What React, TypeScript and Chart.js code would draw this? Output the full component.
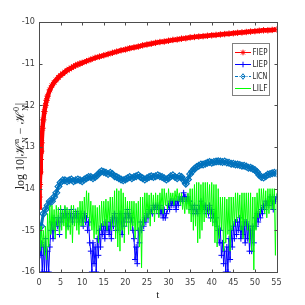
import React, { useEffect, useRef } from "react";
import { Chart, registerables } from "chart.js";

Chart.register(...registerables);

const X_TICKS = [0, 5, 10, 15, 20, 25, 30, 35, 40, 45, 50, 55];
const Y_TICKS = [-16, -15, -14, -13, -12, -11, -10];
const LEGEND_LABELS = ["FIEP", "LIEP", "LICN", "LILF"];
const X_TITLE = "t";

// FIEP sampled times / values
const FIEP_T = [0, 0.1, 0.2, 0.3, 0.4, 0.5, 0.6, 0.8, 1, 1.25, 1.5, 1.75, 2, 2.5, 3, 3.5, 4, 4.5, 5, 5.5, 6, 6.5, 7, 7.5, 8, 8.5, 9, 9.5, 10, 11, 12, 13, 14, 15, 16, 17, 18, 19, 20, 21, 22, 23, 24, 25, 26, 27, 28, 29, 30, 31, 32, 33, 34, 35, 36, 37, 38, 39, 40, 41, 42, 43, 44, 45, 46, 47, 48, 49, 50, 51, 52, 53, 54, 55];
const FIEP = [-14.45, -14.2, -13.9, -13.6, -13.3, -13.1, -12.9, -12.55, -12.35, -12.15, -12.0, -11.88, -11.78, -11.63, -11.53, -11.45, -11.39, -11.33, -11.28, -11.24, -11.2, -11.16, -11.13, -11.1, -11.07, -11.04, -11.02, -11.0, -10.98, -10.94, -10.9, -10.86, -10.83, -10.8, -10.77, -10.74, -10.71, -10.68, -10.66, -10.63, -10.61, -10.59, -10.56, -10.54, -10.52, -10.5, -10.48, -10.47, -10.45, -10.43, -10.42, -10.4, -10.39, -10.37, -10.36, -10.35, -10.34, -10.33, -10.32, -10.31, -10.3, -10.29, -10.28, -10.27, -10.26, -10.25, -10.24, -10.23, -10.22, -10.21, -10.2, -10.2, -10.19, -10.18];

// LIEP, every 0.25 in t
const LIEP = [
  -15.0, -15.6, -15.3, -16.0,
  -15.4, -16.0, -15.2, -16.0,
  -15.5, -16.0, -15.4, -15.0,
  -14.8, -15.2, -14.7, -15.0,
  -14.8, -14.9, -14.7, -15.1,
  -14.5, -14.8, -14.6, -14.7,
  -14.5, -14.7, -14.6, -14.9,
  -14.6, -14.7, -14.5, -14.8,
  -14.6, -14.7, -14.55, -14.7,
  -14.6, -14.8, -14.7, -14.6,
  -14.7, -14.9, -14.6, -14.8,
  -14.7, -15.0, -14.8, -15.3,
  -15.5, -16.0, -15.3, -15.8,
  -15.4, -16.0, -15.2, -15.6,
  -15.0, -15.4, -14.9, -15.1,
  -14.9, -15.2, -14.8, -15.0,
  -14.9, -15.1, -14.8, -15.2,
  -14.7, -14.9, -14.6, -15.0,
  -14.7, -15.0, -14.6, -14.8,
  -14.6, -15.1, -14.7, -14.9,
  -14.6, -14.8, -14.5, -14.7,
  -14.6, -14.8, -14.7, -15.0,
  -15.2, -15.7, -15.4, -15.8,
  -15.0, -15.3, -14.8, -15.0,
  -14.8, -14.9, -14.7, -14.8,
  -14.6, -14.7, -14.5, -14.6,
  -14.5, -14.6, -14.4, -14.5,
  -14.4, -14.5, -14.4, -14.6,
  -14.4, -14.6, -14.5, -14.7,
  -14.5, -14.7, -14.6, -14.5,
  -14.4, -14.5, -14.3, -14.4,
  -14.3, -14.4, -14.3, -14.5,
  -14.3, -14.4, -14.2, -14.3,
  -14.2, -14.3, -14.1, -14.2,
  -14.2, -14.3, -14.2, -14.3,
  -14.3, -14.5, -14.4, -14.6,
  -14.4, -14.6, -14.5, -14.6,
  -14.4, -14.5, -14.3, -14.5,
  -14.4, -14.5, -14.4, -14.6,
  -14.5, -14.6, -14.4, -14.7,
  -14.5, -14.7, -14.6, -14.8,
  -14.7, -14.9, -15.0, -15.3,
  -15.0, -15.6, -15.3, -15.8,
  -15.5, -16.0, -15.4, -16.0,
  -15.2, -15.7, -15.0, -15.4,
  -14.9, -15.2, -14.8, -15.1,
  -14.8, -15.0, -14.7, -15.2,
  -14.9, -15.1, -14.8, -15.3,
  -14.8, -15.2, -14.9, -15.5,
  -15.0, -15.5, -14.9, -15.3,
  -14.7, -14.9, -14.6, -14.8,
  -14.6, -14.7, -14.5, -14.6,
  -14.4, -14.5, -14.3, -14.4,
  -14.3, -14.4, -14.2, -14.3,
  -14.3, -14.5, -14.2, -14.3,
  -14.2,
];

// LICN, every 0.5 in t
const LICN = [
  -15.3, -14.9, -14.6, -14.5, -14.4, -14.3, -14.3, -14.2, -14.1, -13.95,
  -13.85, -13.8, -13.8, -13.82, -13.8, -13.78, -13.82, -13.8, -13.78, -13.8,
  -13.82, -13.78, -13.75, -13.72, -13.72, -13.75, -13.72, -13.68, -13.62, -13.58,
  -13.6, -13.62, -13.65, -13.62, -13.65, -13.7, -13.72, -13.75, -13.78, -13.8,
  -13.78, -13.75, -13.72, -13.75, -13.72, -13.7, -13.68, -13.72, -13.75, -13.78,
  -13.75, -13.72, -13.7, -13.72, -13.7, -13.68, -13.7, -13.72, -13.75, -13.78,
  -13.75, -13.7, -13.68, -13.72, -13.75, -13.7, -13.72, -13.8, -13.88, -13.78,
  -13.65, -13.58, -13.52, -13.48, -13.45, -13.42, -13.42, -13.4, -13.38, -13.36,
  -13.38, -13.36, -13.35, -13.34, -13.35, -13.36, -13.35, -13.37, -13.38, -13.4,
  -13.4, -13.42, -13.42, -13.43, -13.45, -13.45, -13.47, -13.5, -13.5, -13.52,
  -13.55, -13.6, -13.67, -13.72, -13.73, -13.7, -13.66, -13.65, -13.63, -13.62,
  -13.63,
];

// LILF, every 0.25 in t
const LILF = [
  -15.0, -15.5, -14.9, -15.4,
  -15.0, -15.6, -14.9, -15.7,
  -14.6, -15.4, -14.4, -15.1,
  -14.4, -15.0, -14.5, -15.2,
  -14.4, -14.9, -14.45, -15.1,
  -14.4, -15.0, -14.5, -14.9,
  -14.4, -15.2, -14.45, -15.0,
  -14.5, -15.1, -14.4, -15.3,
  -14.4, -14.9, -14.5, -15.0,
  -14.45, -15.1, -14.3, -14.9,
  -14.3, -14.9, -14.2, -14.8,
  -14.05, -14.7, -14.1, -14.9,
  -14.3, -15.0, -14.4, -15.2,
  -14.4, -15.1, -14.45, -15.3,
  -14.4, -15.0, -14.3, -14.9,
  -14.3, -14.9, -14.25, -15.0,
  -14.3, -14.8, -14.2, -15.0,
  -14.2, -14.9, -14.05, -15.2,
  -14.0, -15.4, -14.05, -15.5,
  -14.0, -15.0, -14.1, -15.3,
  -14.2, -14.9, -14.3, -15.1,
  -14.3, -15.0, -14.3, -14.9,
  -14.3, -15.2, -14.35, -15.0,
  -14.3, -15.4, -14.2, -15.9,
  -14.2, -14.9, -14.1, -14.8,
  -14.1, -14.7, -14.15, -14.9,
  -14.1, -14.6, -14.15, -14.8,
  -14.1, -14.6, -14.15, -14.7,
  -14.1, -14.5, -14.0, -14.6,
  -14.0, -14.4, -14.1, -14.5,
  -14.0, -14.4, -14.1, -14.3,
  -14.1, -14.4, -14.05, -14.3,
  -14.0, -14.3, -14.1, -14.4,
  -14.1, -14.5, -14.2, -14.6,
  -14.2, -14.5, -14.1, -14.6,
  -14.0, -14.8, -14.0, -15.0,
  -13.9, -14.9, -13.85, -15.3,
  -13.85, -15.2, -13.9, -15.0,
  -13.85, -14.8, -13.85, -14.7,
  -13.85, -14.6, -13.9, -14.8,
  -13.85, -14.9, -13.9, -15.3,
  -13.9, -15.4, -14.0, -15.2,
  -14.2, -15.0, -14.2, -15.5,
  -14.2, -15.3, -14.25, -15.1,
  -14.2, -15.5, -14.2, -15.0,
  -14.2, -14.9, -14.1, -14.8,
  -14.1, -14.7, -14.15, -15.0,
  -14.1, -15.2, -14.1, -14.9,
  -14.1, -15.0, -14.1, -15.3,
  -14.1, -15.5, -14.2, -15.95,
  -14.2, -15.0, -14.1, -14.7,
  -14.0, -14.6, -14.0, -14.5,
  -14.0, -14.6, -14.05, -14.7,
  -14.0, -14.6, -14.0, -14.5,
  -14.0, -14.5, -14.0, -15.6,
  -14.1,
];

const T_QUARTER = LIEP.map((_, i) => i * 0.25);
const T_HALF = LICN.map((_, i) => i * 0.5);

const C_RED = "#ff0000";
const C_BLUE = "#0000ff";
const C_LICN = "#0072bd";
const C_GREEN = "#00ff00";
const AXIS_COLOR = "#4d4d4d";
const TICK_FONT = "'Liberation Sans Narrow', 'DejaVu Sans Condensed', 'Arial Narrow', 'Liberation Sans', Arial, sans-serif";
const SERIF = "'Liberation Serif', 'DejaVu Serif', serif";

function pts(xs: number[], ys: number[]) {
  return ys.map((y, i) => ({ x: xs[i], y }));
}

function drawMarker(ctx: CanvasRenderingContext2D, kind: string, x: number, y: number, r: number) {
  ctx.beginPath();
  if (kind === "star" || kind === "cross") {
    ctx.moveTo(x - r, y);
    ctx.lineTo(x + r, y);
    ctx.moveTo(x, y - r);
    ctx.lineTo(x, y + r);
    if (kind === "star") {
      const d = r * 0.7;
      ctx.moveTo(x - d, y - d);
      ctx.lineTo(x + d, y + d);
      ctx.moveTo(x - d, y + d);
      ctx.lineTo(x + d, y - d);
    }
  } else if (kind === "diamond") {
    ctx.moveTo(x, y - r);
    ctx.lineTo(x + r * 0.75, y);
    ctx.lineTo(x, y + r);
    ctx.lineTo(x - r * 0.75, y);
    ctx.closePath();
  }
  ctx.stroke();
}

const decorPlugin = {
  id: "decor",
  afterDraw(chart: any) {
    const ctx: CanvasRenderingContext2D = chart.ctx;
    const { left, right, top, bottom } = chart.chartArea;
    const xs = chart.scales.x;
    const ys = chart.scales.y;
    ctx.save();
    const L = Math.round(left) + 0.5;
    const R = Math.round(right) + 0.5;
    const T = Math.round(top) + 0.5;
    const B = Math.round(bottom) + 0.5;
    ctx.strokeStyle = AXIS_COLOR;
    ctx.lineWidth = 1;
    ctx.strokeRect(L, T, R - L, B - T);
    ctx.beginPath();
    X_TICKS.forEach((v) => {
      const p = Math.round(xs.getPixelForValue(v)) + 0.5;
      ctx.moveTo(p, B);
      ctx.lineTo(p, B - 3);
      ctx.moveTo(p, T);
      ctx.lineTo(p, T + 3);
    });
    Y_TICKS.forEach((v) => {
      const p = Math.round(ys.getPixelForValue(v)) + 0.5;
      ctx.moveTo(L, p);
      ctx.lineTo(L + 3, p);
      ctx.moveTo(R, p);
      ctx.lineTo(R - 3, p);
    });
    ctx.stroke();

    // x title
    ctx.fillStyle = "#262626";
    ctx.font = `11px ${SERIF}`;
    ctx.textAlign = "center";
    ctx.textBaseline = "middle";
    ctx.fillText(X_TITLE, (left + right) / 2, 295);

    // y title with sub/superscripts
    ctx.translate(20, (top + bottom) / 2 - 1);
    ctx.rotate(-Math.PI / 2);
    const big = `12px ${SERIF}`;
    const small = `8px ${SERIF}`;
    type Seg = { t: string; sup?: string; sub?: string };
    const segs: Seg[] = [
      { t: "log 10|" },
      { t: "ℋ", sup: "n", sub: "N" },
      { t: " − " },
      { t: "ℋ", sup: "0", sub: "N" },
      { t: "|" },
    ];
    let total = 0;
    const widths = segs.map((s) => {
      ctx.font = big;
      let w = ctx.measureText(s.t).width;
      if (s.sup || s.sub) {
        ctx.font = small;
        w += Math.max(ctx.measureText(s.sup || "").width, ctx.measureText(s.sub || "").width) + 0.5;
      }
      total += w;
      return w;
    });
    let cx = -total / 2;
    ctx.textAlign = "left";
    ctx.textBaseline = "alphabetic";
    segs.forEach((s, i) => {
      ctx.font = big;
      ctx.fillText(s.t, cx, 4);
      const wb = ctx.measureText(s.t).width;
      if (s.sup || s.sub) {
        ctx.font = small;
        if (s.sup) ctx.fillText(s.sup, cx + wb + 0.5, -1);
        if (s.sub) ctx.fillText(s.sub, cx + wb + 0.5, 7.5);
      }
      cx += widths[i];
    });
    ctx.restore();

    // legend
    ctx.save();
    const bx = 232.5, by = 43.5, bw = 37, bh = 52;
    ctx.fillStyle = "#ffffff";
    ctx.fillRect(bx, by, bw, bh);
    ctx.strokeStyle = "#808080";
    ctx.lineWidth = 1;
    ctx.strokeRect(bx, by, bw, bh);
    const colors = [C_RED, C_BLUE, C_LICN, C_GREEN];
    const markers = ["star", "cross", "diamond", ""];
    LEGEND_LABELS.forEach((lab, i) => {
      const yy = 52 + i * 12;
      ctx.strokeStyle = colors[i];
      ctx.lineWidth = 1;
      ctx.setLineDash(i === 2 ? [3, 1.5, 1, 1.5] : []);
      ctx.beginPath();
      ctx.moveTo(235, yy + 0.5);
      ctx.lineTo(251, yy + 0.5);
      ctx.stroke();
      ctx.setLineDash([]);
      if (markers[i]) drawMarker(ctx, markers[i], 243, yy + 0.5, 2.8);
      ctx.fillStyle = "#262626";
      ctx.font = `9px ${TICK_FONT}`;
      ctx.textAlign = "left";
      ctx.textBaseline = "middle";
      const w = ctx.measureText(lab).width;
      const sx = w > 15 ? 15 / w : 1;
      ctx.save();
      ctx.translate(252.5, yy + 1);
      ctx.scale(sx, 1);
      ctx.fillText(lab, 0, 0);
      ctx.restore();
    });
    ctx.restore();
  },
};

export default function App() {
  const ref = useRef<HTMLCanvasElement | null>(null);
  useEffect(() => {
    if (!ref.current) return;
    const chart = new Chart(ref.current, {
      type: "line",
      data: {
        datasets: [
          {
            label: "FIEP",
            data: pts(FIEP_T, FIEP),
            borderColor: C_RED,
            borderWidth: 4.5,
            pointStyle: "star",
            pointRadius: 3.2,
            pointBorderColor: C_RED,
            pointBackgroundColor: C_RED,
            pointBorderWidth: 1,
            order: 1,
          },
          {
            label: "LIEP",
            data: pts(T_QUARTER, LIEP),
            borderColor: C_BLUE,
            borderWidth: 1,
            pointStyle: "cross",
            pointRadius: 3,
            pointBorderColor: C_BLUE,
            pointBorderWidth: 1,
            order: 4,
          },
          {
            label: "LICN",
            data: pts(T_HALF, LICN),
            borderColor: C_LICN,
            borderWidth: 3,
            pointStyle: "rectRot",
            pointRadius: 3.4,
            pointBorderColor: C_LICN,
            pointBackgroundColor: "rgba(0,0,0,0)",
            pointBorderWidth: 1.2,
            order: 3,
          },
          {
            label: "LILF",
            data: pts(T_QUARTER, LILF),
            borderColor: C_GREEN,
            borderWidth: 1,
            pointRadius: 0,
            order: 2,
          },
        ],
      },
      options: {
        responsive: false,
        animation: false,
        devicePixelRatio: 1,
        events: [],
        layout: { padding: { top: 22, right: 28.5, left: 0, bottom: 0 } },
        plugins: { legend: { display: false }, tooltip: { enabled: false } },
        elements: { line: { tension: 0 } },
        scales: {
          x: {
            type: "linear",
            min: 0,
            max: 55,
            afterFit: (s: any) => {
              s.height = 33;
            },
            afterBuildTicks: (s: any) => {
              s.ticks = X_TICKS.map((v) => ({ value: v }));
            },
            ticks: {
              color: "#404040",
              font: { family: TICK_FONT, size: 9 },
              padding: 5,
              maxRotation: 0,
              callback: (v: any) => String(v),
            },
            grid: { display: true, drawOnChartArea: false, drawTicks: false },
            border: { display: false },
          },
          y: {
            type: "linear",
            min: -16,
            max: -10,
            afterFit: (s: any) => {
              s.width = 39;
            },
            afterBuildTicks: (s: any) => {
              s.ticks = Y_TICKS.map((v) => ({ value: v }));
            },
            ticks: {
              color: "#404040",
              font: { family: TICK_FONT, size: 9 },
              padding: 4,
              callback: (v: any) => String(v),
            },
            grid: { display: true, drawOnChartArea: false, drawTicks: false },
            border: { display: false },
          },
        },
      },
      plugins: [decorPlugin],
    });
    return () => chart.destroy();
  }, []);
  return (
    <div style={{ position: "absolute", left: 0, top: 0, width: 305, height: 305, background: "#fff" }}>
      <canvas ref={ref} width={305} height={305} style={{ display: "block" }} />
    </div>
  );
}
